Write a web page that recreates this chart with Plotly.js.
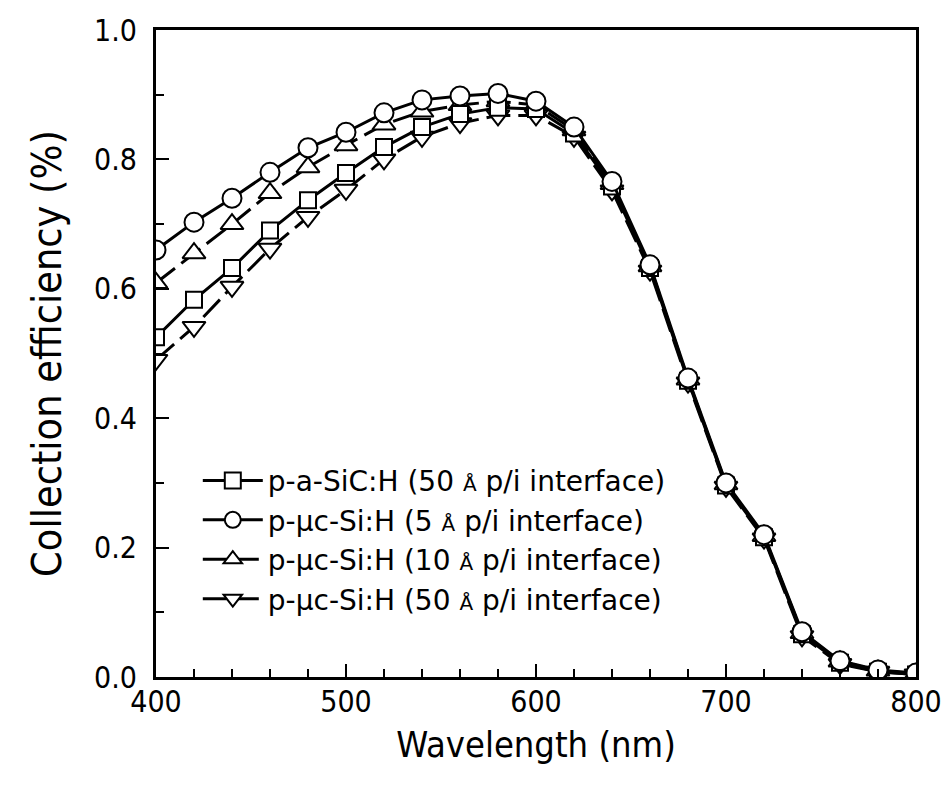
<!DOCTYPE html>
<html>
<head>
<meta charset="utf-8">
<script src="https://cdn.plot.ly/plotly-3.0.1.min.js"></script>
<style>html,body{margin:0;padding:0;background:#fff;}#chart{width:951px;height:785px;}</style>
</head>
<body>
<div id="chart"></div>
<script>
const wavelength = [400,420,440,460,480,500,520,540,560,580,600,620,640,660,680,700,720,740,760,780,800];

const seriesNames = [
  'p-a-SiC:H (50 <span style="font-size:20px">Å</span> p/i interface)',
  'p-µc-Si:H (5 <span style="font-size:20px">Å</span> p/i interface)',
  'p-µc-Si:H (10 <span style="font-size:20px">Å</span> p/i interface)',
  'p-µc-Si:H (50 <span style="font-size:20px">Å</span> p/i interface)'
];

const aSiC50 = [0.525,0.583,0.632,0.690,0.737,0.779,0.819,0.850,0.870,0.880,0.878,0.840,0.758,0.632,0.458,0.296,0.216,0.066,0.022,0.008,0.004];
const ucSi5  = [0.660,0.703,0.740,0.780,0.818,0.842,0.872,0.892,0.898,0.902,0.890,0.850,0.766,0.637,0.462,0.300,0.220,0.070,0.025,0.011,0.006];
const ucSi10 = [0.609,0.655,0.700,0.748,0.788,0.822,0.854,0.874,0.884,0.890,0.884,0.845,0.762,0.635,0.460,0.298,0.218,0.068,0.024,0.010,0.005];
const ucSi50 = [0.490,0.541,0.603,0.662,0.711,0.753,0.800,0.835,0.856,0.868,0.868,0.835,0.752,0.628,0.455,0.294,0.214,0.063,0.020,0.008,0.004];

const FONT = '"DejaVu Sans Condensed", "DejaVu Sans", sans-serif';
const LFONT = '"DejaVu Sans", sans-serif';

function tr(y, name, symbol, size, dash, rank) {
  return {
    x: wavelength, y: y, name: name, type: 'scatter', mode: 'lines+markers',
    legendrank: rank,
    line: {color: '#000', width: 3, dash: dash},
    marker: {symbol: symbol, size: size, color: '#fff', line: {color: '#000', width: 2}}
  };
}

const data = [
  tr(ucSi50, seriesNames[3], 'triangle-down', 20, '24px,8px', 4),
  tr(ucSi10, seriesNames[2], 'triangle-up', 20, '24px,8px', 3),
  tr(aSiC50, seriesNames[0], 'square', 16, 'solid', 1),
  tr(ucSi5,  seriesNames[1], 'circle', 19, 'solid', 2)
];

const layout = {
  width: 951, height: 785,
  margin: {l: 156, r: 35, t: 30, b: 108},
  paper_bgcolor: '#fff', plot_bgcolor: '#fff',
  font: {family: FONT, color: '#000', size: 28},
  showlegend: true,
  legend: {
    x: 0.055, y: 0.342, xanchor: 'left', yanchor: 'top',
    traceorder: 'normal',
    font: {family: LFONT, size: 28, color: '#000'},
    bgcolor: 'rgba(0,0,0,0)', borderwidth: 0,
    itemwidth: 60, tracegroupgap: 0
  },
  xaxis: {
    range: [400, 800], dtick: 100, tick0: 400,
    ticks: 'inside', ticklen: 13, tickwidth: 2, tickcolor: '#000',
    minor: {dtick: 20, ticks: 'inside', ticklen: 8, tickwidth: 2, tickcolor: '#000'},
    showline: true, linewidth: 3, linecolor: '#000', mirror: true,
    showgrid: false, zeroline: false,
    tickfont: {family: FONT, size: 30, color: '#000'},
    ticklabelstandoff: -4,
    title: {text: 'Wavelength (nm)', font: {family: FONT, size: 36, color: '#000'}, standoff: 14}
  },
  yaxis: {
    range: [0, 1.0], dtick: 0.2, tick0: 0, tickformat: '.1f',
    ticks: 'inside', ticklen: 13, tickwidth: 2, tickcolor: '#000',
    minor: {dtick: 0.1, ticks: 'inside', ticklen: 8, tickwidth: 2, tickcolor: '#000'},
    showline: true, linewidth: 3, linecolor: '#000', mirror: true,
    showgrid: false, zeroline: false,
    tickfont: {family: FONT, size: 30, color: '#000'},
    ticklabelstandoff: 10,
    title: {text: 'Collection efficiency (%)', font: {family: FONT, size: 41, color: '#000'}, standoff: 20}
  }
};

Plotly.newPlot('chart', data, layout, {staticPlot: true, displayModeBar: false});
</script>
</body>
</html>
